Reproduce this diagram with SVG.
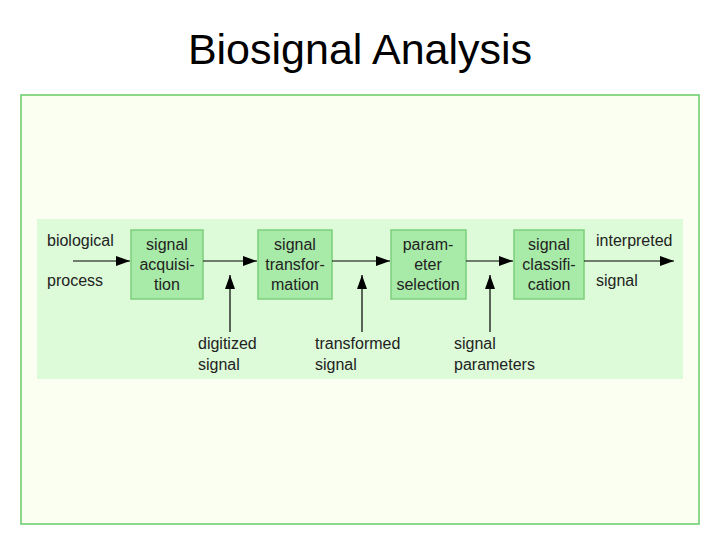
<svg xmlns="http://www.w3.org/2000/svg" width="720" height="540" viewBox="0 0 720 540">
<style>
text{font-family:"Liberation Sans",Arial,sans-serif;fill:#222}
.t{font-size:43px;fill:#000}
.l{font-size:16px}
.b{font-size:16px;text-anchor:middle}
.box{fill:#a8eaa8;stroke:#7ccf7c;stroke-width:1.5}
.c{stroke:#000;stroke-width:1.2;fill:none}
</style>
<defs><marker id="a" markerWidth="14" markerHeight="10" refX="14" refY="5" orient="auto" markerUnits="userSpaceOnUse"><path d="M0,0L14,5L0,10z" fill="#000"/></marker></defs>
<rect width="720" height="540" fill="#fff"/>
<text class="t" x="360" y="64" text-anchor="middle">Biosignal Analysis</text>
<rect x="21" y="95" width="678" height="429" fill="#fbfff2" stroke="#66cc66" stroke-width="1.5"/>
<rect x="37" y="219" width="646" height="160" fill="#ddfbd8"/>
<g id="n1"><rect class="box" x="131" y="230" width="72" height="69"/><text class="b" x="167" y="250">signal</text><text class="b" x="167" y="270">acquisi-</text><text class="b" x="167" y="290">tion</text></g>
<g id="n2"><rect class="box" x="258" y="230" width="74" height="69"/><text class="b" x="295" y="250">signal</text><text class="b" x="295" y="270">transfor-</text><text class="b" x="295" y="290">mation</text></g>
<g id="n3"><rect class="box" x="391" y="230" width="75" height="69"/><text class="b" x="428" y="250">param-</text><text class="b" x="428" y="270">eter</text><text class="b" x="428" y="290">selection</text></g>
<g id="n4"><rect class="box" x="514" y="230" width="70" height="69"/><text class="b" x="549" y="250">signal</text><text class="b" x="549" y="270">classifi-</text><text class="b" x="549" y="290">cation</text></g>
<g id="labels">
<text class="l" x="47" y="246">biological</text><text class="l" x="47" y="286">process</text>
<text class="l" x="596" y="246">interpreted</text><text class="l" x="596" y="286">signal</text>
<text class="l" x="198" y="349">digitized</text><text class="l" x="198" y="370">signal</text>
<text class="l" x="315" y="349">transformed</text><text class="l" x="315" y="370">signal</text>
<text class="l" x="454" y="349">signal</text><text class="l" x="454" y="370">parameters</text>
</g>
<g id="connectors">
<path class="c" d="M73,261H130" marker-end="url(#a)"/>
<path class="c" d="M203,261H257" marker-end="url(#a)"/>
<path class="c" d="M332,261H390" marker-end="url(#a)"/>
<path class="c" d="M466,261H513" marker-end="url(#a)"/>
<path class="c" d="M584,261H674" marker-end="url(#a)"/>
<path class="c" d="M230,332V275" marker-end="url(#a)"/>
<path class="c" d="M362,332V275" stroke="#777" stroke-width="2" marker-end="url(#a)"/>
<path class="c" d="M490,332V275" marker-end="url(#a)"/>
</g>
</svg>
